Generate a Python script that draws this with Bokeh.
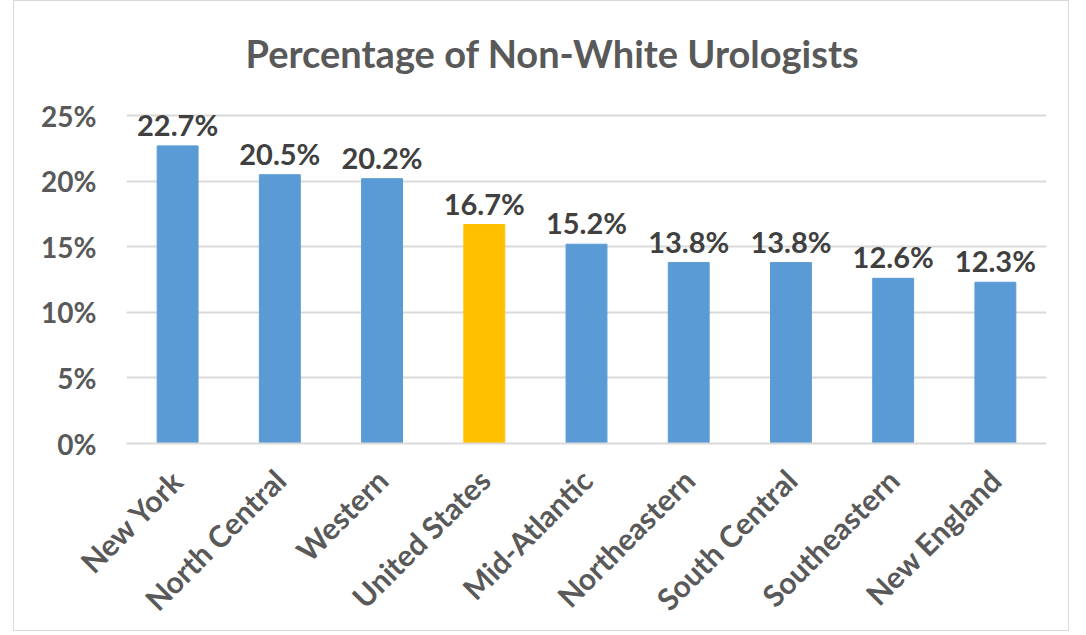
from bokeh.plotting import figure
from bokeh.models import ColumnDataSource, LabelSet, NumeralTickFormatter, Range1d, FixedTicker
from bokeh.core.properties import value
from bokeh.embed import file_html
from bokeh.resources import INLINE
from math import pi

categories = ["New York", "North Central", "Western", "United States", "Mid-Atlantic",
              "Northeastern", "South Central", "Southeastern", "New England"]
values = [22.7, 20.5, 20.2, 16.7, 15.2, 13.8, 13.8, 12.6, 12.3]
highlight = "United States"
y_ticks = [0, 0.05, 0.10, 0.15, 0.20, 0.25]

BLUE = "#5B9BD5"
GOLD = "#FFC000"
FONT = "Lato"

src = ColumnDataSource(dict(
    cat=categories,
    val=[v / 100 for v in values],
    lab=[f"{v:.1f}%" for v in values],
    color=[GOLD if c == highlight else BLUE for c in categories],
))

p = figure(x_range=categories, y_range=Range1d(0, 0.27), width=1056, height=631,
           output_backend="svg", toolbar_location=None,
           title="Percentage of Non-White Urologists",
           min_border_left=112, min_border_right=24, min_border_top=88, min_border_bottom=150)
p.styles = {"border": "1px solid #d9d9d9", "margin-left": "13px"}

p.vbar(x="cat", top="val", width=0.4, color="color", source=src)

labels = LabelSet(x="cat", y="val", text="lab", source=src, text_align="center",
                  text_baseline="bottom", y_offset=4, text_font=value(FONT),
                  text_font_style="bold", text_font_size="29px", text_color="#404040")
p.add_layout(labels)

p.title.align = "left"
p.title.offset = 119
p.title.standoff = 28
p.title.text_font = FONT
p.title.text_font_style = "bold"
p.title.text_font_size = "38px"
p.title.text_color = "#595959"

p.outline_line_color = None
p.xgrid.grid_line_color = None
p.ygrid.grid_line_color = "#d9d9d9"
p.ygrid.grid_line_width = 2
p.yaxis.ticker = FixedTicker(ticks=y_ticks)
p.yaxis.formatter = NumeralTickFormatter(format="0%")
p.yaxis.axis_line_color = None
p.yaxis.major_tick_line_color = None
p.yaxis.minor_tick_line_color = None
p.yaxis.major_label_standoff = 24
p.xaxis.axis_line_color = "#d9d9d9"
p.xaxis.axis_line_width = 2
p.xaxis.major_tick_line_color = None
p.xaxis.minor_tick_line_color = None
p.xaxis.major_label_orientation = pi / 4
p.xaxis.major_label_standoff = 25
for ax in (p.xaxis, p.yaxis):
    ax.major_label_text_font = FONT
    ax.major_label_text_font_style = "bold"
    ax.major_label_text_color = "#595959"
p.yaxis.major_label_text_font_size = "28px"
p.xaxis.major_label_text_font_size = "30px"

open("out.html", "w").write(file_html(p, INLINE))
